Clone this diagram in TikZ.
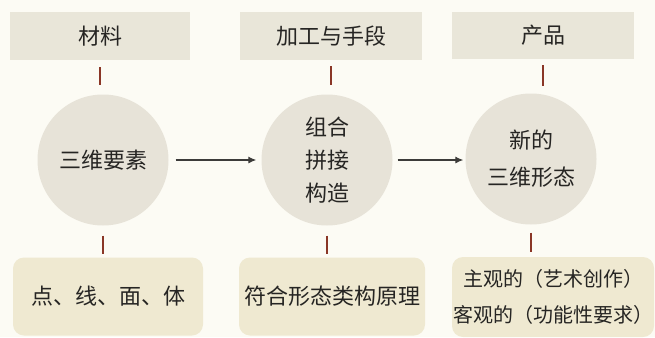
\documentclass[tikz,border=0pt]{standalone}
\usepackage{fontspec}
\setmainfont{Noto Sans CJK SC}
\usetikzlibrary{arrows.meta}
\definecolor{bg}{HTML}{FCFBF4}
\definecolor{topfill}{HTML}{E9E6D9}
\definecolor{circfill}{HTML}{E7E3D8}
\definecolor{botfill}{HTML}{EFE9D1}
\definecolor{tickc}{HTML}{8A3626}
\definecolor{txt}{HTML}{262523}
\tikzset{
  topbox/.style={fill=topfill, draw=none, inner sep=0pt, text=txt,
    font=\fontsize{22}{26}\selectfont},
  circ/.style={circle, fill=circfill, draw=none, minimum size=131pt, inner sep=0pt,
    text=txt, align=center, font=\fontsize{22}{33}\selectfont},
  botbox/.style={fill=botfill, draw=none, rounded corners=11pt, inner sep=0pt,
    text=txt, align=center, font=\fontsize{22}{26}\selectfont},
  tickline/.style={draw=tickc, line width=2.6pt},
  flow/.style={draw=txt!90, line width=1.1pt, -{Latex[length=8pt,width=7pt]}}
}
\begin{document}
\begin{tikzpicture}[x=1pt,y=-1pt]
\fill[bg] (0,0) rectangle (655,337);
\useasboundingbox (0,0) rectangle (655,337);
% top boxes
\node[topbox, minimum width=180pt, minimum height=48pt] (b1) at (100,36) {材料};
\node[topbox, minimum width=182pt, minimum height=48pt] (b2) at (331,36) {加工与手段};
\node[topbox, minimum width=182pt, minimum height=47pt] (b3) at (543,35.5) {产品};
% circles
\node[circ] (c1) at (103,160) {三维要素};
\node[circ] (c2) at (327,160) {组合\\拼接\\构造};
\node[circ] (c3) at (531,159) {新的\\[4pt]三维形态};
% bottom boxes
\node[botbox, minimum width=190pt, minimum height=78pt] (d1) at (108,296.5) {点、线、面、体};
\node[botbox, minimum width=186pt, minimum height=78pt] (d2) at (332,296.5) {符合形态类构原理};
\node[botbox, minimum width=202pt, minimum height=80pt,
  font=\fontsize{20}{36}\selectfont] (d3) at (553,297) {主观的（艺术创作）\\客观的（功能性要求）};
% ticks
\draw[tickline, shorten <=7pt, shorten >=9pt] (b1.south) -- (b1.south |- c1.north);
\draw[tickline, shorten <=6pt, shorten >=9pt] (b2.south) -- (b2.south |- c2.north);
\draw[tickline, shorten <=6pt, shorten >=7pt] (b3.south) -- (b3.south |- c3.north);
\draw[tickline, shorten <=10pt, shorten >=3pt] (c1.south) -- (c1.south |- d1.north);
\draw[tickline, shorten <=10pt, shorten >=3pt] (c2.south) -- (c2.south |- d2.north);
\draw[tickline, shorten <=8pt, shorten >=5pt] (c3.south) -- (c3.south |- d3.north);
% arrows
\draw[flow, shorten <=7pt, shorten >=5pt] (c1.east) -- (c2.west);
\draw[flow, shorten <=5pt, shorten >=2pt] (c2.east) -- (c2.east -| c3.west);
\end{tikzpicture}
\end{document}
